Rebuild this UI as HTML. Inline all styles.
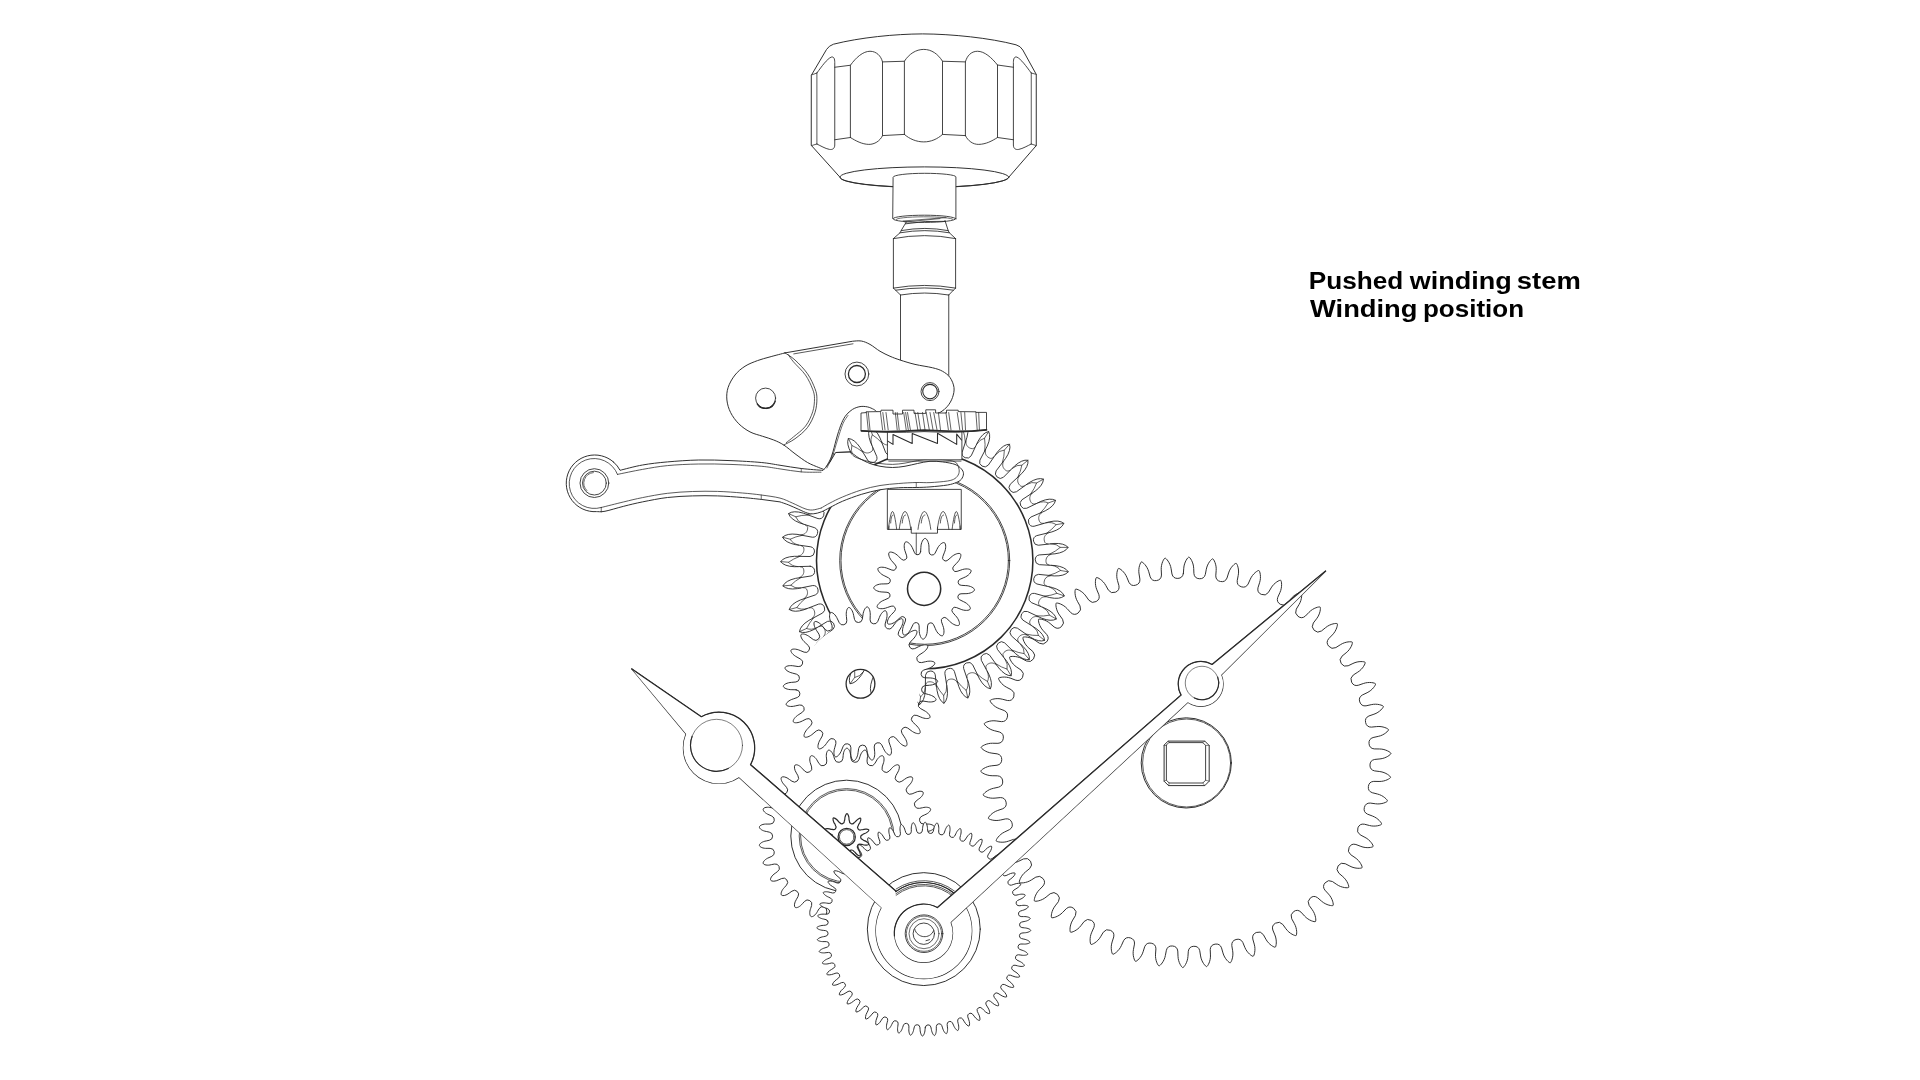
<!DOCTYPE html>
<html lang="en"><head><meta charset="utf-8"><title>Pushed winding stem - Winding position</title>
<style>
html,body{margin:0;padding:0;background:#fff;}
body{width:1920px;height:1080px;overflow:hidden;position:relative;}
svg{position:absolute;left:0;top:0;display:block;}
</style></head><body>
<svg width="1920" height="1080" viewBox="0 0 1920 1080" stroke-linejoin="round" stroke-linecap="round">
<defs><clipPath id="cwclip"><path clip-rule="evenodd" d="M0,0H1920V1080H0Z M860.5,683.8 m-60,0 a60,60 0 1,0 120,0 a60,60 0 1,0 -120,0Z M860.5,683.8 m-14.2,0 a14.2,14.2 0 1,0 28.4,0 a14.2,14.2 0 1,0 -28.4,0Z"/></clipPath></defs>
<path d="M1183.38,573.49L1183.76,568.21C1184.12,562.07 1187.95,557.06 1188.9,557.07C1189.84,557.09 1193.52,562.21 1193.7,568.36L1193.92,573.65A5.83,5.83 0 0 0 1205.32,574.48L1206.31,569.28C1207.38,563.23 1211.77,558.69 1212.71,558.81C1213.64,558.94 1216.71,564.46 1216.17,570.58L1215.78,575.86A5.83,5.83 0 0 0 1227,578.01L1228.59,572.96C1230.35,567.07 1235.24,563.08 1236.15,563.31C1237.07,563.54 1239.47,569.38 1238.22,575.4L1237.22,580.6A5.83,5.83 0 0 0 1248.12,584.04L1250.29,579.2C1252.72,573.56 1258.04,570.16 1258.92,570.49C1259.8,570.83 1261.51,576.91 1259.57,582.74L1257.98,587.79A5.83,5.83 0 0 0 1268.4,592.47L1271.11,587.92C1274.18,582.6 1279.86,579.84 1280.7,580.27C1281.54,580.71 1282.53,586.95 1279.93,592.52L1277.75,597.34A5.83,5.83 0 0 0 1287.56,603.2L1290.79,599C1294.46,594.07 1300.41,591.99 1301.2,592.52C1301.98,593.05 1302.24,599.36 1299.01,604.59L1296.29,609.13A5.83,5.83 0 0 0 1305.35,616.09L1309.04,612.29C1313.26,607.82 1319.42,606.44 1320.13,607.06C1320.85,607.68 1320.37,613.97 1316.56,618.79L1313.33,622.99A5.83,5.83 0 0 0 1321.52,630.95L1325.63,627.6C1330.34,623.65 1336.61,623 1337.25,623.7C1337.89,624.39 1336.69,630.59 1332.34,634.93L1328.65,638.73A5.83,5.83 0 0 0 1335.86,647.59L1340.33,644.74C1345.46,641.36 1351.77,641.44 1352.33,642.21C1352.88,642.98 1350.97,648.99 1346.14,652.8L1342.03,656.14A5.83,5.83 0 0 0 1348.17,665.78L1352.93,663.47C1358.43,660.71 1364.69,661.52 1365.15,662.35C1365.61,663.18 1363.01,668.93 1357.78,672.15L1353.31,674.99A5.83,5.83 0 0 0 1358.28,685.28L1363.28,683.54C1369.06,681.43 1375.18,682.97 1375.55,683.84C1375.91,684.72 1372.66,690.13 1367.08,692.72L1362.32,695.02A5.83,5.83 0 0 0 1366.06,705.82L1371.23,704.67C1377.21,703.25 1383.12,705.48 1383.38,706.39C1383.63,707.3 1379.78,712.3 1373.94,714.23L1368.94,715.96A5.83,5.83 0 0 0 1371.41,727.12L1376.68,726.58C1382.78,725.87 1388.39,728.77 1388.54,729.7C1388.69,730.64 1384.28,735.15 1378.26,736.39L1373.09,737.53A5.83,5.83 0 0 0 1374.24,748.9L1379.54,748.98C1385.69,748.98 1390.91,752.51 1390.96,753.45C1391,754.4 1386.09,758.37 1379.97,758.91L1374.7,759.44A5.83,5.83 0 0 0 1374.53,770.86L1379.78,771.55C1385.89,772.27 1390.67,776.38 1390.6,777.33C1390.53,778.27 1385.2,781.65 1379.06,781.46L1373.76,781.38A5.83,5.83 0 0 0 1372.27,792.71L1377.4,794C1383.38,795.42 1387.66,800.07 1387.48,801C1387.3,801.92 1381.61,804.66 1375.53,803.77L1370.28,803.07A5.83,5.83 0 0 0 1367.48,814.15L1372.43,816.03C1378.21,818.13 1381.91,823.24 1381.63,824.14C1381.34,825.04 1375.38,827.1 1369.44,825.51L1364.31,824.2A5.83,5.83 0 0 0 1360.24,834.88L1364.94,837.33C1370.43,840.08 1373.52,845.59 1373.13,846.45C1372.74,847.31 1366.58,848.67 1360.87,846.39L1355.92,844.5A5.83,5.83 0 0 0 1350.64,854.64L1355.02,857.61C1360.16,860.99 1362.59,866.81 1362.1,867.63C1361.62,868.44 1355.34,869.06 1349.93,866.14L1345.23,863.69A5.83,5.83 0 0 0 1338.81,873.14L1342.82,876.61C1347.53,880.56 1349.26,886.62 1348.69,887.38C1348.11,888.13 1341.8,888.02 1336.77,884.49L1332.39,881.51A5.83,5.83 0 0 0 1324.92,890.15L1328.5,894.06C1332.71,898.53 1333.73,904.76 1333.07,905.44C1332.41,906.11 1326.16,905.27 1321.57,901.18L1317.57,897.72A5.83,5.83 0 0 0 1309.14,905.43L1312.24,909.73C1315.91,914.66 1316.2,920.96 1315.47,921.56C1314.73,922.15 1308.62,920.59 1304.53,916L1300.96,912.09A5.83,5.83 0 0 0 1291.69,918.78L1294.28,923.4C1297.35,928.73 1296.9,935.02 1296.11,935.53C1295.31,936.04 1289.42,933.78 1285.89,928.74L1282.8,924.44A5.83,5.83 0 0 0 1272.82,930.01L1274.85,934.9C1277.28,940.54 1276.11,946.75 1275.26,947.16C1274.4,947.57 1268.81,944.64 1265.9,939.23L1263.32,934.6A5.83,5.83 0 0 0 1252.77,938.97L1254.21,944.07C1255.98,949.95 1254.09,955.98 1253.2,956.29C1252.3,956.6 1247.09,953.04 1244.82,947.33L1242.8,942.43A5.83,5.83 0 0 0 1231.81,945.55L1232.65,950.77C1233.72,956.83 1231.15,962.59 1230.23,962.8C1229.3,963 1224.54,958.86 1222.95,952.92L1221.51,947.83A5.83,5.83 0 0 0 1210.23,949.64L1210.46,954.93C1210.82,961.07 1207.6,966.49 1206.66,966.59C1205.71,966.69 1201.46,962.02 1200.58,955.94L1199.74,950.71A5.83,5.83 0 0 0 1188.32,951.21L1187.94,956.49C1187.58,962.63 1183.75,967.64 1182.8,967.63C1181.86,967.61 1178.18,962.49 1178,956.34L1177.78,951.05A5.83,5.83 0 0 0 1166.38,950.22L1165.39,955.42C1164.32,961.47 1159.93,966.01 1158.99,965.89C1158.06,965.76 1154.99,960.24 1155.53,954.12L1155.92,948.84A5.83,5.83 0 0 0 1144.7,946.69L1143.11,951.74C1141.35,957.63 1136.46,961.62 1135.55,961.39C1134.63,961.16 1132.23,955.32 1133.48,949.3L1134.48,944.1A5.83,5.83 0 0 0 1123.58,940.66L1121.41,945.5C1118.98,951.14 1113.66,954.54 1112.78,954.21C1111.9,953.87 1110.19,947.79 1112.13,941.96L1113.72,936.91A5.83,5.83 0 0 0 1103.3,932.23L1100.59,936.78C1097.52,942.1 1091.84,944.86 1091,944.43C1090.16,943.99 1089.17,937.75 1091.77,932.18L1093.95,927.36A5.83,5.83 0 0 0 1084.14,921.5L1080.91,925.7C1077.24,930.63 1071.29,932.71 1070.5,932.18C1069.72,931.65 1069.46,925.34 1072.69,920.11L1075.41,915.57A5.83,5.83 0 0 0 1066.35,908.61L1062.66,912.41C1058.44,916.88 1052.28,918.26 1051.57,917.64C1050.85,917.02 1051.33,910.73 1055.14,905.91L1058.37,901.71A5.83,5.83 0 0 0 1050.18,893.75L1046.07,897.1C1041.36,901.05 1035.09,901.7 1034.45,901C1033.81,900.31 1035.01,894.11 1039.36,889.77L1043.05,885.97A5.83,5.83 0 0 0 1035.84,877.11L1031.37,879.96C1026.24,883.34 1019.93,883.26 1019.37,882.49C1018.82,881.72 1020.73,875.71 1025.56,871.9L1029.67,868.56A5.83,5.83 0 0 0 1023.53,858.92L1018.77,861.23C1013.27,863.99 1007.01,863.18 1006.55,862.35C1006.09,861.52 1008.69,855.77 1013.92,852.55L1018.39,849.71A5.83,5.83 0 0 0 1013.42,839.42L1008.42,841.16C1002.64,843.27 996.52,841.73 996.15,840.86C995.79,839.98 999.04,834.57 1004.62,831.98L1009.38,829.68A5.83,5.83 0 0 0 1005.64,818.88L1000.47,820.03C994.49,821.45 988.58,819.22 988.32,818.31C988.07,817.4 991.92,812.4 997.76,810.47L1002.76,808.74A5.83,5.83 0 0 0 1000.29,797.58L995.02,798.12C988.92,798.83 983.31,795.93 983.16,795C983.01,794.06 987.42,789.55 993.44,788.31L998.61,787.17A5.83,5.83 0 0 0 997.46,775.8L992.16,775.72C986.01,775.72 980.79,772.19 980.74,771.25C980.7,770.3 985.61,766.33 991.73,765.79L997,765.26A5.83,5.83 0 0 0 997.17,753.84L991.92,753.15C985.81,752.43 981.03,748.32 981.1,747.37C981.17,746.43 986.5,743.05 992.64,743.24L997.94,743.32A5.83,5.83 0 0 0 999.43,731.99L994.3,730.7C988.32,729.28 984.04,724.63 984.22,723.7C984.4,722.78 990.09,720.04 996.17,720.93L1001.42,721.63A5.83,5.83 0 0 0 1004.22,710.55L999.27,708.67C993.49,706.57 989.79,701.46 990.07,700.56C990.36,699.66 996.32,697.6 1002.26,699.19L1007.39,700.5A5.83,5.83 0 0 0 1011.46,689.82L1006.76,687.37C1001.27,684.62 998.18,679.11 998.57,678.25C998.96,677.39 1005.12,676.03 1010.83,678.31L1015.78,680.2A5.83,5.83 0 0 0 1021.06,670.06L1016.68,667.09C1011.54,663.71 1009.11,657.89 1009.6,657.07C1010.08,656.26 1016.36,655.64 1021.77,658.56L1026.47,661.01A5.83,5.83 0 0 0 1032.89,651.56L1028.88,648.09C1024.17,644.14 1022.44,638.08 1023.01,637.32C1023.59,636.57 1029.9,636.68 1034.93,640.21L1039.31,643.19A5.83,5.83 0 0 0 1046.78,634.55L1043.2,630.64C1038.99,626.17 1037.97,619.94 1038.63,619.26C1039.29,618.59 1045.54,619.43 1050.13,623.52L1054.13,626.98A5.83,5.83 0 0 0 1062.56,619.27L1059.46,614.97C1055.79,610.04 1055.5,603.74 1056.23,603.14C1056.97,602.55 1063.08,604.11 1067.17,608.7L1070.74,612.61A5.83,5.83 0 0 0 1080.01,605.92L1077.42,601.3C1074.35,595.97 1074.8,589.68 1075.59,589.17C1076.39,588.66 1082.28,590.92 1085.81,595.96L1088.9,600.26A5.83,5.83 0 0 0 1098.88,594.69L1096.85,589.8C1094.42,584.16 1095.59,577.95 1096.44,577.54C1097.3,577.13 1102.89,580.06 1105.8,585.47L1108.38,590.1A5.83,5.83 0 0 0 1118.93,585.73L1117.49,580.63C1115.72,574.75 1117.61,568.72 1118.5,568.41C1119.4,568.1 1124.61,571.66 1126.88,577.37L1128.9,582.27A5.83,5.83 0 0 0 1139.89,579.15L1139.05,573.93C1137.98,567.87 1140.55,562.11 1141.47,561.9C1142.4,561.7 1147.16,565.84 1148.75,571.78L1150.19,576.87A5.83,5.83 0 0 0 1161.47,575.06L1161.24,569.77C1160.88,563.63 1164.1,558.21 1165.04,558.11C1165.99,558.01 1170.24,562.68 1171.12,568.76L1171.96,573.99A5.83,5.83 0 0 0 1183.38,573.49Z" fill="#fff" stroke="#2a2a2a" stroke-width="0.97" />
<circle cx="1186.3" cy="762.9" r="45.1" fill="none" stroke="#2a2a2a" stroke-width="0.97" />
<circle cx="1186.6" cy="763" r="44" fill="none" stroke="#2a2a2a" stroke-width="0.78" />
<path d="M1168.5,741.1 L1204.8,741.1 L1209.2,745.5 L1209.2,781.2 L1204.8,785.6 L1168.5,785.6 L1164.1,781.2 L1164.1,745.5Z" fill="none" stroke="#2a2a2a" stroke-width="0.97" />
<path d="M1169.2,742.6 L1202.8,742.6 L1205.6,745.4 L1205.6,780.2 L1202.8,783 L1169.2,783 L1166.4,780.2 L1166.4,745.4Z" fill="none" stroke="#2a2a2a" stroke-width="0.87" />
<path d="M1168.5,741.1 L1169.2,742.6M1204.8,741.1 L1202.8,742.6M1209.2,745.5 L1205.6,745.4M1209.2,781.2 L1205.6,780.2M1204.8,785.6 L1202.8,783M1168.5,785.6 L1169.2,783M1164.1,781.2 L1166.4,780.2M1164.1,745.5 L1166.4,745.4" fill="none" stroke="#2a2a2a" stroke-width="0.58" />
<circle cx="924.7" cy="560.6" r="108.2" fill="none" stroke="#2a2a2a" stroke-width="1.55" />
<circle cx="924.7" cy="560.6" r="85" fill="none" stroke="#2a2a2a" stroke-width="0.87" />
<circle cx="924.7" cy="560.6" r="83.7" fill="none" stroke="#2a2a2a" stroke-width="0.87" />
<path d="M796.12,689.79L791.9,689.68C787.3,689.75 783.41,687.93 783.34,686.29C783.3,684.65 787.07,682.59 791.67,682.36L795.87,681.98A3.98,3.98 0 0 0 796.56,674.2L792.49,673.09C788,672.06 784.66,669.36 784.99,667.75C785.34,666.15 789.49,665.05 794.01,665.93L798.18,666.57A3.98,3.98 0 0 0 800.71,659.18L797.03,657.12C792.92,655.05 790.32,651.63 791.02,650.15C791.75,648.68 796.04,648.6 800.22,650.54L804.11,652.15A3.98,3.98 0 0 0 808.34,645.59L805.26,642.71C801.76,639.71 800.06,635.77 801.09,634.5C802.15,633.25 806.34,634.2 809.93,637.08L813.33,639.58A3.98,3.98 0 0 0 819,634.21L816.7,630.68C814.02,626.93 813.31,622.7 814.62,621.71C815.95,620.75 819.78,622.68 822.58,626.33L825.28,629.57A3.98,3.98 0 0 0 832.07,625.72L830.68,621.74C828.98,617.46 829.3,613.19 830.81,612.54C832.33,611.92 835.59,614.71 837.43,618.93L839.28,622.72A3.98,3.98 0 0 0 846.8,620.61L846.4,616.41C845.77,611.85 847.11,607.77 848.73,607.5C850.35,607.27 852.85,610.76 853.63,615.29L854.51,619.42A3.98,3.98 0 0 0 862.32,619.17L862.94,614.99C863.42,610.42 865.69,606.77 867.33,606.9C868.96,607.06 870.55,611.05 870.22,615.64L870.1,619.86A3.98,3.98 0 0 0 877.73,621.48L879.33,617.58C880.9,613.25 883.97,610.25 885.53,610.77C887.08,611.32 887.67,615.57 886.25,619.95L885.12,624.01A3.98,3.98 0 0 0 892.15,627.41L894.63,624.01C897.19,620.18 900.89,618.01 902.28,618.88C903.65,619.79 903.21,624.05 900.79,627.97L898.71,631.64A3.98,3.98 0 0 0 904.72,636.63L907.95,633.91C911.35,630.81 915.46,629.59 916.6,630.77C917.72,631.97 916.27,636.01 912.98,639.23L910.09,642.3A3.98,3.98 0 0 0 914.73,648.58L918.51,646.72C922.55,644.52 926.84,644.32 927.66,645.74C928.46,647.17 926.08,650.75 922.12,653.08L918.58,655.37A3.98,3.98 0 0 0 921.58,662.58L925.7,661.68C930.15,660.51 934.36,661.34 934.82,662.91C935.25,664.5 932.09,667.4 927.68,668.72L923.69,670.1A3.98,3.98 0 0 0 924.88,677.81L929.1,677.92C933.7,677.85 937.59,679.67 937.66,681.31C937.7,682.95 933.93,685.01 929.33,685.24L925.13,685.62A3.98,3.98 0 0 0 924.44,693.4L928.51,694.51C933,695.54 936.34,698.24 936.01,699.85C935.66,701.45 931.51,702.55 926.99,701.67L922.82,701.03A3.98,3.98 0 0 0 920.29,708.42L923.97,710.48C928.08,712.55 930.68,715.97 929.98,717.45C929.25,718.92 924.96,719 920.78,717.06L916.89,715.45A3.98,3.98 0 0 0 912.66,722.01L915.74,724.89C919.24,727.89 920.94,731.83 919.91,733.1C918.85,734.35 914.66,733.4 911.07,730.52L907.67,728.02A3.98,3.98 0 0 0 902,733.39L904.3,736.92C906.98,740.67 907.69,744.9 906.38,745.89C905.05,746.85 901.22,744.92 898.42,741.27L895.72,738.03A3.98,3.98 0 0 0 888.93,741.88L890.32,745.86C892.02,750.14 891.7,754.41 890.19,755.06C888.67,755.68 885.41,752.89 883.57,748.67L881.72,744.88A3.98,3.98 0 0 0 874.2,746.99L874.6,751.19C875.23,755.75 873.89,759.83 872.27,760.1C870.65,760.33 868.15,756.84 867.37,752.31L866.49,748.18A3.98,3.98 0 0 0 858.68,748.43L858.06,752.61C857.58,757.18 855.31,760.83 853.67,760.7C852.04,760.54 850.45,756.55 850.78,751.96L850.9,747.74A3.98,3.98 0 0 0 843.27,746.12L841.67,750.02C840.1,754.35 837.03,757.35 835.47,756.83C833.92,756.28 833.33,752.03 834.75,747.65L835.88,743.59A3.98,3.98 0 0 0 828.85,740.19L826.37,743.59C823.81,747.42 820.11,749.59 818.72,748.72C817.35,747.81 817.79,743.55 820.21,739.63L822.29,735.96A3.98,3.98 0 0 0 816.28,730.97L813.05,733.69C809.65,736.79 805.54,738.01 804.4,736.83C803.28,735.63 804.73,731.59 808.02,728.37L810.91,725.3A3.98,3.98 0 0 0 806.27,719.02L802.49,720.88C798.45,723.08 794.16,723.28 793.34,721.86C792.54,720.43 794.92,716.85 798.88,714.52L802.42,712.23A3.98,3.98 0 0 0 799.42,705.02L795.3,705.92C790.85,707.09 786.64,706.26 786.18,704.69C785.75,703.1 788.91,700.2 793.32,698.88L797.31,697.5A3.98,3.98 0 0 0 796.12,689.79Z" fill="#fff" stroke="#2a2a2a" stroke-width="0.97" />
<g clip-path="url(#cwclip)">
<path d="M810.17,566.27L794.44,566.71Q784.22,566.36 780.7,561.61Q784.15,556.81 794.37,556.31L810.1,556.53A4.96,4.96 0 0 0 810.86,546.83L810.86,546.83L795.28,544.61Q785.27,542.53 782.6,537.26Q786.81,533.11 796.97,534.34L812.44,537.22A4.96,4.96 0 0 0 814.82,527.79L814.82,527.79L799.85,522.97Q790.33,519.23 788.59,513.58Q793.44,510.2 803.25,513.13L818,518.59A4.96,4.96 0 0 0 821.95,509.69L821.95,509.69L808,502.41Q799.25,497.11 798.5,491.25Q803.85,488.74 813.01,493.29L826.64,501.16A4.96,4.96 0 0 0 832.03,493.06L832.03,493.06L819.52,483.53Q811.78,476.82 812.03,470.92Q817.73,469.35 826,475.38L838.09,485.44A4.96,4.96 0 0 0 844.78,478.37L844.78,478.37L834.05,466.86Q827.57,458.95 828.81,453.17Q834.69,452.59 841.82,459.93L852.04,471.89A4.96,4.96 0 0 0 859.83,466.05L859.83,466.05L851.2,452.89Q846.14,443.99 848.35,438.51Q854.24,438.93 860.02,447.37L868.08,460.88A4.96,4.96 0 0 0 876.74,456.44L876.74,456.44L870.46,442.02Q866.98,432.39 870.08,427.36Q875.82,428.77 880.09,438.07L885.75,452.75A4.96,4.96 0 0 0 895.03,449.83L895.03,449.83L891.28,434.55Q889.48,424.48 893.38,420.05Q898.8,422.41 901.44,432.29L904.53,447.72A4.96,4.96 0 0 0 914.18,446.41L914.18,446.41L913.07,430.72Q912.99,420.49 917.58,416.78Q922.52,420.02 923.46,430.21L923.9,445.93A4.96,4.96 0 0 0 933.63,446.28L933.63,446.28L935.18,430.62Q936.84,420.52 941.99,417.64Q946.31,421.67 945.51,431.87L943.29,447.45A4.96,4.96 0 0 0 952.82,449.43L952.82,449.43L957,434.26Q960.33,424.59 965.9,422.62Q969.48,427.32 966.97,437.24L962.15,452.22A4.96,4.96 0 0 0 971.2,455.78L971.2,455.78L977.88,441.54Q982.81,432.57 988.63,431.57Q991.36,436.81 987.21,446.16L979.92,460.1A4.96,4.96 0 0 0 988.25,465.15L988.25,465.15L997.24,452.24Q1003.61,444.23 1009.52,444.23Q1011.32,449.85 1005.65,458.37L996.11,470.88A4.96,4.96 0 0 0 1003.46,477.26L1003.46,477.26L1014.51,466.06Q1022.14,459.24 1027.96,460.24Q1028.79,466.09 1021.76,473.52L1010.25,484.24A4.96,4.96 0 0 0 1016.42,491.77L1016.42,491.77L1029.2,482.6Q1037.87,477.17 1043.44,479.13Q1043.27,485.04 1035.08,491.18L1021.92,499.8A4.96,4.96 0 0 0 1026.73,508.26L1026.73,508.26L1040.88,501.38Q1050.34,497.49 1055.5,500.37Q1054.33,506.16 1045.23,510.83L1030.8,517.1A4.96,4.96 0 0 0 1034.11,526.26L1034.11,526.26L1049.21,521.86Q1059.2,519.63 1063.8,523.34Q1061.67,528.86 1051.91,531.91L1036.62,535.66A4.96,4.96 0 0 0 1038.34,545.24L1038.34,545.24L1053.97,543.46Q1064.19,542.95 1068.09,547.39Q1065.06,552.46 1054.92,553.82L1039.23,554.93A4.96,4.96 0 0 0 1039.3,564.67L1039.3,564.67L1055.01,565.56Q1065.16,566.78 1068.26,571.81Q1064.42,576.3 1054.2,575.93L1038.54,574.37A4.96,4.96 0 0 0 1036.96,583.98L1036.96,583.98L1052.29,587.51Q1062.1,590.43 1064.3,595.91Q1059.76,599.69 1049.74,597.59L1034.58,593.41A4.96,4.96 0 0 0 1031.4,602.61L1031.4,602.61L1045.91,608.68Q1055.08,613.22 1056.33,619Q1051.21,621.95 1041.69,618.19L1027.45,611.51A4.96,4.96 0 0 0 1022.76,620.04L1022.76,620.04L1036.04,628.48Q1044.31,634.5 1044.57,640.4Q1039.02,642.45 1030.28,637.14L1017.37,628.14A4.96,4.96 0 0 0 1011.31,635.76L1011.31,635.76L1022.97,646.32Q1030.1,653.65 1029.35,659.51Q1023.55,660.59 1015.82,653.88L1004.62,642.83A4.96,4.96 0 0 0 997.36,649.31L997.36,649.31L1007.07,661.69Q1012.86,670.13 1011.13,675.77Q1005.23,675.86 998.75,667.94L989.57,655.15A4.96,4.96 0 0 0 981.32,660.32L981.32,660.32L988.8,674.16Q993.08,683.45 990.43,688.73Q984.59,687.81 979.54,678.91L972.66,664.76A4.96,4.96 0 0 0 963.65,668.45L963.65,668.45L968.69,683.36Q971.34,693.24 967.83,697.99Q962.23,696.1 958.76,686.47L954.37,671.37A4.96,4.96 0 0 0 944.87,673.48L944.87,673.48L947.31,689.03Q948.25,699.21 943.99,703.3Q938.79,700.49 937,690.42L935.22,674.79A4.96,4.96 0 0 0 925.5,675.27L925.5,675.27L925.28,691Q924.49,701.2 919.59,704.51Q914.95,700.86 914.88,690.63L915.77,674.92A4.96,4.96 0 0 0 906.11,673.75L906.11,673.75L903.23,689.22Q900.73,699.14 895.35,701.58Q891.38,697.2 893.05,687.1L896.58,671.77A4.96,4.96 0 0 0 887.25,668.98L887.25,668.98L881.8,683.74Q877.66,693.1 871.94,694.59Q868.78,689.6 872.12,679.93L878.2,665.42A4.96,4.96 0 0 0 869.48,661.1L869.48,661.1L861.61,674.72Q855.94,683.24 850.06,683.74Q847.78,678.29 852.71,669.33L861.15,656.05A4.96,4.96 0 0 0 853.29,650.32L853.29,650.32L843.23,662.42Q836.21,669.86 830.32,669.36Q829,663.6 835.37,655.6L845.94,643.94A4.96,4.96 0 0 0 839.15,636.96L839.15,636.96L827.2,647.19Q819.02,653.33 813.3,651.84Q812.97,645.94 820.6,639.14L832.98,629.43A4.96,4.96 0 0 0 827.48,621.4L827.48,621.4L813.96,629.46Q804.86,634.14 799.48,631.7Q800.15,625.83 808.83,620.41L822.67,612.94A4.96,4.96 0 0 0 818.6,604.1L818.6,604.1L803.92,609.76Q794.16,612.83 789.26,609.52Q790.92,603.85 800.39,599.97L815.29,594.94A4.96,4.96 0 0 0 812.78,585.54L812.78,585.54L797.35,588.64Q787.21,590.01 782.94,585.93Q785.53,580.61 795.52,578.39L811.06,575.96A4.96,4.96 0 0 0 810.17,566.27Z" fill="none" stroke="#2a2a2a" stroke-width="0.92" />
<path d="M799.34,577.54 C802.72,576.44 804.38,573.38 803.75,569.83C803.51,567.73 802.27,567.09 800.35,566.75M797.84,566.65 Q791.31,566.03 788.51,562.26 Q793.21,558.76 799.77,556.38M788.51,562.26 L780.7,561.61M798.28,556.11 C801.8,555.59 803.95,552.87 803.93,549.26C804.05,547.14 802.94,546.3 801.1,545.65M798.65,545.13 Q792.31,543.41 790.19,539.22 Q795.41,536.57 802.28,535.33M790.19,539.22 L782.6,537.26M800.86,534.81 C804.42,534.9 806.99,532.57 807.59,529.01C808.06,526.95 807.1,525.93 805.41,524.98M803.07,524.05 Q797.12,521.29 795.74,516.8 Q801.34,515.07 808.31,515.01M795.74,516.8 L788.59,513.58M807,514.25 C810.49,514.94 813.42,513.08 814.61,509.67C815.42,507.72 814.66,506.55 813.14,505.33M811,504.02 Q805.6,500.29 804.99,495.63 Q810.81,494.87 817.69,495.99M804.99,495.63 L798.5,491.25M816.52,495.03 C819.85,496.29 823.05,494.96 824.8,491.8C825.93,490.01 825.37,488.73 824.09,487.27M822.2,485.62 Q817.51,481.03 817.69,476.34 Q823.55,476.57 830.15,478.84M817.69,476.34 L812.03,470.92M829.16,477.69 C832.23,479.5 835.61,478.72 837.86,475.91C839.28,474.33 838.95,472.98 837.93,471.32M836.34,469.37 Q832.49,464.06 833.47,459.47 Q839.21,460.68 845.33,464.03M833.47,459.47 L828.81,453.17M844.55,462.74 C847.26,465.04 850.73,464.84 853.42,462.45C855.09,461.14 854.99,459.75 854.26,457.94M853.03,455.75 Q850.14,449.86 851.88,445.5 Q857.32,447.67 862.79,452.01M851.88,445.5 L848.35,438.51M862.24,450.6 C864.53,453.32 867.97,453.72 871.04,451.82C872.9,450.81 873.03,449.42 872.63,447.51M871.78,445.15 Q869.92,438.86 872.38,434.85 Q877.38,437.91 882.03,443.11M872.38,434.85 L870.08,427.36M881.73,441.62 C883.52,444.7 886.85,445.67 890.19,444.31C892.2,443.63 892.57,442.29 892.49,440.34M892.06,437.87 Q891.29,431.35 894.38,427.82 Q898.79,431.68 902.5,437.59M894.38,427.82 L893.38,420.05M902.45,436.07 C903.7,439.41 906.82,440.93 910.34,440.15C912.44,439.82 913.02,438.56 913.28,436.63M913.27,434.12 Q913.61,427.56 917.26,424.6 Q920.95,429.15 923.61,435.6M917.26,424.6 L917.58,416.78M923.82,434.1 C924.49,437.6 927.3,439.63 930.91,439.46C933.03,439.49 933.82,438.34 934.39,436.48M934.81,434 Q936.25,427.6 940.35,425.3 Q943.22,430.41 944.75,437.22M940.35,425.3 L941.99,417.64M945.21,435.77 C945.28,439.33 947.71,441.81 951.29,442.25C953.37,442.63 954.35,441.64 955.23,439.9M956.06,437.53 Q958.56,431.47 962.99,429.89 Q964.96,435.41 965.31,442.38M962.99,429.89 L965.9,422.62M966.01,441.03 C965.47,444.55 967.45,447.41 970.91,448.45C972.9,449.18 974.03,448.36 975.19,446.8M976.4,444.6 Q979.9,439.05 984.53,438.24 Q985.54,444.02 984.71,450.95M984.53,438.24 L988.63,431.57M985.62,449.74 C984.5,453.11 985.97,456.26 989.2,457.87C991.04,458.93 992.29,458.31 993.7,456.97M995.26,455.01 Q999.65,450.12 1004.35,450.11 Q1004.36,455.98 1002.38,462.66M1004.35,450.11 L1009.52,444.23M1003.48,461.63 C1001.8,464.77 1002.72,468.11 1005.63,470.25C1007.26,471.6 1008.6,471.2 1010.22,470.12M1012.09,468.45 Q1017.24,464.38 1021.87,465.16 Q1020.9,470.94 1017.81,477.2M1021.87,465.16 L1027.96,460.24M1019.07,476.36 C1016.89,479.18 1017.23,482.63 1019.74,485.22C1021.12,486.83 1022.5,486.67 1024.28,485.87M1026.41,484.55 Q1032.17,481.4 1036.6,482.96 Q1034.67,488.49 1030.57,494.14M1036.6,482.96 L1043.44,479.13M1031.95,493.52 C1029.33,495.93 1029.08,499.39 1031.11,502.37C1032.2,504.19 1033.59,504.26 1035.48,503.77M1037.8,502.83 Q1044.01,500.71 1048.11,502.99 Q1045.27,508.11 1040.27,512.98M1048.11,502.99 L1055.5,500.37M1041.75,512.62 C1038.75,514.54 1037.92,517.91 1039.42,521.19C1040.18,523.17 1041.54,523.47 1043.49,523.31M1045.94,522.78 Q1052.42,521.73 1056.08,524.67 Q1052.41,529.24 1046.66,533.2M1056.08,524.67 L1063.8,523.34M1048.17,533.09 C1044.89,534.48 1043.51,537.66 1044.43,541.14C1044.85,543.22 1046.14,543.76 1048.08,543.92M1050.59,543.81 Q1057.15,543.87 1060.26,547.39 Q1055.87,551.28 1049.54,554.21M1060.26,547.39 L1068.09,547.39M1051.05,554.35 C1047.58,555.17 1045.67,558.07 1046,561.66C1046.06,563.78 1047.24,564.52 1049.12,565.02M1051.61,565.33 Q1058.07,566.5 1060.54,570.49 Q1055.56,573.58 1048.82,575.39M1060.54,570.49 L1068.26,571.81M1050.28,575.79 C1046.73,576.01 1044.36,578.55 1044.07,582.14C1043.78,584.24 1044.81,585.17 1046.59,585.98M1048.99,586.71 Q1055.15,588.95 1056.91,593.31 Q1051.48,595.51 1044.54,596.16M1056.91,593.31 L1064.3,595.91M1045.91,596.8 C1042.37,596.41 1039.61,598.51 1038.71,602.01C1038.07,604.03 1038.93,605.12 1040.54,606.21M1042.79,607.34 Q1048.49,610.59 1049.49,615.18 Q1043.76,616.43 1036.8,615.9M1049.49,615.18 L1056.33,619M1038.05,616.76 C1034.63,615.78 1031.55,617.39 1030.08,620.68C1029.1,622.56 1029.76,623.78 1031.17,625.13M1033.19,626.62 Q1038.26,630.79 1038.47,635.48 Q1032.61,635.75 1025.84,634.05M1038.47,635.48 L1044.57,640.4M1026.93,635.11 C1023.72,633.57 1020.41,634.63 1018.41,637.62C1017.12,639.31 1017.58,640.63 1018.73,642.2M1020.47,644.01 Q1024.76,648.97 1024.17,653.63 Q1018.36,652.91 1011.98,650.09M1024.17,653.63 L1029.35,659.51M1012.87,651.31 C1009.96,649.25 1006.53,649.74 1004.04,652.35C1002.49,653.8 1002.71,655.18 1003.59,656.92M1005,658.99 Q1008.39,664.61 1007.02,669.11 Q1001.41,667.41 995.6,663.55M1007.02,669.11 L1011.13,675.77M996.27,664.91 C993.75,662.39 990.29,662.28 987.39,664.44C985.62,665.61 985.61,667 986.18,668.86M987.22,671.15 Q989.6,677.26 987.5,681.46 Q982.26,678.83 977.18,674.05M987.5,681.46 L990.43,688.73M977.61,675.5 C975.56,672.59 972.16,671.91 968.94,673.54C967,674.39 966.75,675.76 966.99,677.7M967.64,680.12 Q968.95,686.55 966.17,690.33 Q961.45,686.86 957.25,681.29M966.17,690.33 L967.83,697.99M957.43,682.79 C955.9,679.58 952.66,678.32 949.22,679.4C947.16,679.9 946.68,681.21 946.6,683.16M946.82,685.66 Q947.03,692.22 943.65,695.48 Q939.58,691.26 936.39,685.05M943.65,695.48 L943.99,703.3M936.31,686.57 C935.35,683.14 932.37,681.36 928.79,681.83C926.68,681.98 925.98,683.19 925.57,685.1M925.36,687.6 Q924.47,694.1 920.58,696.74 Q917.29,691.89 915.19,685.24M920.58,696.74 L919.59,704.51M914.85,686.72 C914.48,683.17 911.85,680.92 908.24,680.78C906.13,680.57 905.25,681.65 904.52,683.45M903.89,685.88 Q901.91,692.14 897.63,694.08 Q895.2,688.75 894.26,681.84M897.63,694.08 L895.35,701.58M893.68,683.24 C893.91,679.69 891.7,677.01 888.17,676.27C886.12,675.71 885.07,676.62 884.04,678.27M883.02,680.57 Q880.01,686.4 875.46,687.59 Q873.97,681.92 874.21,674.95M875.46,687.59 L871.94,694.59M873.4,676.23 C874.23,672.77 872.5,669.76 869.15,668.43C867.23,667.53 866.03,668.25 864.74,669.71M863.34,671.8 Q859.39,677.03 854.71,677.44 Q854.2,671.6 855.61,664.77M854.71,677.44 L850.06,683.74M854.6,665.9 C856,662.63 854.8,659.37 851.72,657.49C849.98,656.28 848.68,656.79 847.16,658.01M845.43,659.83 Q840.65,664.32 835.97,663.93 Q836.45,658.09 839,651.6M835.97,663.93 L830.32,669.36M837.81,652.54 C839.75,649.55 839.12,646.14 836.4,643.76C834.89,642.28 833.52,642.56 831.82,643.5M829.81,645 Q824.33,648.63 819.78,647.45 Q821.24,641.77 824.85,635.8M819.78,647.45 L813.3,651.84M823.52,636.53 C825.94,633.91 825.89,630.44 823.61,627.65C822.37,625.92 820.98,625.97 819.14,626.61M816.91,627.75 Q810.9,630.4 806.62,628.47 Q809.01,623.12 813.58,617.85M806.62,628.47 L799.48,631.7M812.15,618.34 C814.97,616.17 815.51,612.74 813.74,609.6C812.81,607.69 811.43,607.5 809.5,607.83M807.11,608.57 Q800.74,610.16 796.84,607.54 Q800.11,602.67 805.5,598.24M796.84,607.54 L789.26,609.52M804.01,598.49 C807.15,596.82 808.27,593.53 807.05,590.14C806.46,588.1 805.13,587.68 803.18,587.68M800.69,588.01 Q794.15,588.5 790.75,585.26 Q794.79,581.01 800.86,577.56M790.75,585.26 L782.94,585.93" fill="none" stroke="#2a2a2a" stroke-width="0.73" />
</g>
<circle cx="860.5" cy="683.8" r="14.4" fill="none" stroke="#2a2a2a" stroke-width="1.26" />
<path d="M920.61,551.69L920.88,547.66C920.86,542.62 923.38,538.41 925.11,538.41C926.84,538.47 929.19,542.79 928.97,547.82L929.08,551.86A3.13,3.13 0 0 0 935.07,553.18L936.87,549.56C938.78,544.9 942.72,541.97 944.32,542.63C945.89,543.35 946.41,548.24 944.28,552.8L942.83,556.58A3.13,3.13 0 0 0 947.87,560.09L950.92,557.43C954.46,553.86 959.23,552.66 960.45,553.88C961.62,555.15 960.23,559.86 956.52,563.26L953.74,566.2A3.13,3.13 0 0 0 957.05,571.37L960.88,570.08C965.52,568.14 970.38,568.85 971.04,570.45C971.64,572.07 968.56,575.89 963.83,577.61L960.13,579.26A3.13,3.13 0 0 0 961.21,585.31L965.24,585.58C970.28,585.56 974.49,588.08 974.49,589.81C974.43,591.54 970.11,593.89 965.08,593.67L961.04,593.78A3.13,3.13 0 0 0 959.72,599.77L963.34,601.57C968,603.48 970.93,607.42 970.27,609.02C969.55,610.59 964.66,611.11 960.1,608.98L956.32,607.53A3.13,3.13 0 0 0 952.81,612.57L955.47,615.62C959.04,619.16 960.24,623.93 959.02,625.15C957.75,626.32 953.04,624.93 949.64,621.22L946.7,618.44A3.13,3.13 0 0 0 941.53,621.75L942.82,625.58C944.76,630.22 944.05,635.08 942.45,635.74C940.83,636.34 937.01,633.26 935.29,628.53L933.64,624.83A3.13,3.13 0 0 0 927.59,625.91L927.32,629.94C927.34,634.98 924.82,639.19 923.09,639.19C921.36,639.13 919.01,634.81 919.23,629.78L919.12,625.74A3.13,3.13 0 0 0 913.13,624.42L911.33,628.04C909.42,632.7 905.48,635.63 903.88,634.97C902.31,634.25 901.79,629.36 903.92,624.8L905.37,621.02A3.13,3.13 0 0 0 900.33,617.51L897.28,620.17C893.74,623.74 888.97,624.94 887.75,623.72C886.58,622.45 887.97,617.74 891.68,614.34L894.46,611.4A3.13,3.13 0 0 0 891.15,606.23L887.32,607.52C882.68,609.46 877.82,608.75 877.16,607.15C876.56,605.53 879.64,601.71 884.37,599.99L888.07,598.34A3.13,3.13 0 0 0 886.99,592.29L882.96,592.02C877.92,592.04 873.71,589.52 873.71,587.79C873.77,586.06 878.09,583.71 883.12,583.93L887.16,583.82A3.13,3.13 0 0 0 888.48,577.83L884.86,576.03C880.2,574.12 877.27,570.18 877.93,568.58C878.65,567.01 883.54,566.49 888.1,568.62L891.88,570.07A3.13,3.13 0 0 0 895.39,565.03L892.73,561.98C889.16,558.44 887.96,553.67 889.18,552.45C890.45,551.28 895.16,552.67 898.56,556.38L901.5,559.16A3.13,3.13 0 0 0 906.67,555.85L905.38,552.02C903.44,547.38 904.15,542.52 905.75,541.86C907.37,541.26 911.19,544.34 912.91,549.07L914.56,552.77A3.13,3.13 0 0 0 920.61,551.69Z" fill="none" stroke="#2a2a2a" stroke-width="0.97" />
<circle cx="924.1" cy="588.8" r="16.6" fill="#fff" stroke="#2a2a2a" stroke-width="1.55" />
<path d="M924.52,840.27L927.51,840.93C931.47,841.49 934.57,843.78 934.42,845.4C934.23,847.01 930.72,848.61 926.73,848.33L923.67,848.36A4.15,4.15 0 0 0 921.98,856.32L924.77,857.59C928.52,858.96 931.08,861.85 930.59,863.39C930.08,864.93 926.31,865.77 922.47,864.66L919.47,864.06A4.15,4.15 0 0 0 916.16,871.49L918.62,873.31C922.01,875.43 923.91,878.79 923.11,880.2C922.29,881.6 918.43,881.63 914.9,879.75L912.09,878.53A4.15,4.15 0 0 0 907.31,885.12L909.33,887.41C912.21,890.19 913.37,893.87 912.3,895.08C911.2,896.28 907.42,895.51 904.36,892.94L901.86,891.16A4.15,4.15 0 0 0 895.82,896.61L897.32,899.27C899.56,902.59 899.93,906.43 898.63,907.39C897.3,908.33 893.77,906.8 891.3,903.64L889.23,901.39A4.15,4.15 0 0 0 882.19,905.46L883.11,908.38C884.61,912.09 884.17,915.92 882.69,916.59C881.21,917.24 878.06,915 876.31,911.4L874.76,908.77A4.15,4.15 0 0 0 867.02,911.28L867.31,914.33C868.01,918.27 866.78,921.93 865.2,922.28C863.61,922.6 861,919.76 860.03,915.87L859.06,912.97A4.15,4.15 0 0 0 850.97,913.82L850.62,916.86C850.48,920.86 848.52,924.19 846.9,924.2C845.28,924.19 843.32,920.86 843.18,916.86L842.83,913.82A4.15,4.15 0 0 0 834.74,912.97L833.77,915.87C832.8,919.76 830.19,922.6 828.6,922.28C827.02,921.93 825.79,918.27 826.49,914.33L826.78,911.28A4.15,4.15 0 0 0 819.04,908.77L817.49,911.4C815.74,915 812.59,917.24 811.11,916.59C809.63,915.92 809.19,912.09 810.69,908.38L811.61,905.46A4.15,4.15 0 0 0 804.57,901.39L802.5,903.64C800.03,906.8 796.5,908.33 795.17,907.39C793.87,906.43 794.24,902.59 796.48,899.27L797.98,896.61A4.15,4.15 0 0 0 791.94,891.16L789.44,892.94C786.38,895.51 782.6,896.28 781.5,895.08C780.43,893.87 781.59,890.19 784.47,887.41L786.49,885.12A4.15,4.15 0 0 0 781.71,878.53L778.9,879.75C775.37,881.63 771.51,881.6 770.69,880.2C769.89,878.79 771.79,875.43 775.18,873.31L777.64,871.49A4.15,4.15 0 0 0 774.33,864.06L771.33,864.66C767.49,865.77 763.72,864.93 763.21,863.39C762.72,861.85 765.28,858.96 769.03,857.59L771.82,856.32A4.15,4.15 0 0 0 770.13,848.36L767.07,848.33C763.08,848.61 759.57,847.01 759.38,845.4C759.23,843.78 762.33,841.49 766.29,840.93L769.28,840.27A4.15,4.15 0 0 0 769.28,832.13L766.29,831.47C762.33,830.91 759.23,828.62 759.38,827C759.57,825.39 763.08,823.79 767.07,824.07L770.13,824.04A4.15,4.15 0 0 0 771.82,816.08L769.03,814.81C765.28,813.44 762.72,810.55 763.21,809.01C763.72,807.47 767.49,806.63 771.33,807.74L774.33,808.34A4.15,4.15 0 0 0 777.64,800.91L775.18,799.09C771.79,796.97 769.89,793.61 770.69,792.2C771.51,790.8 775.37,790.77 778.9,792.65L781.71,793.87A4.15,4.15 0 0 0 786.49,787.28L784.47,784.99C781.59,782.21 780.43,778.53 781.5,777.32C782.6,776.12 786.38,776.89 789.44,779.46L791.94,781.24A4.15,4.15 0 0 0 797.98,775.79L796.48,773.13C794.24,769.81 793.87,765.97 795.17,765.01C796.5,764.07 800.03,765.6 802.5,768.76L804.57,771.01A4.15,4.15 0 0 0 811.61,766.94L810.69,764.02C809.19,760.31 809.63,756.48 811.11,755.81C812.59,755.16 815.74,757.4 817.49,761L819.04,763.63A4.15,4.15 0 0 0 826.78,761.12L826.49,758.07C825.79,754.13 827.02,750.47 828.6,750.12C830.19,749.8 832.8,752.64 833.77,756.53L834.74,759.43A4.15,4.15 0 0 0 842.83,758.58L843.18,755.54C843.32,751.54 845.28,748.21 846.9,748.2C848.52,748.21 850.48,751.54 850.62,755.54L850.97,758.58A4.15,4.15 0 0 0 859.06,759.43L860.03,756.53C861,752.64 863.61,749.8 865.2,750.12C866.78,750.47 868.01,754.13 867.31,758.07L867.02,761.12A4.15,4.15 0 0 0 874.76,763.63L876.31,761C878.06,757.4 881.21,755.16 882.69,755.81C884.17,756.48 884.61,760.31 883.11,764.02L882.19,766.94A4.15,4.15 0 0 0 889.23,771.01L891.3,768.76C893.77,765.6 897.3,764.07 898.63,765.01C899.93,765.97 899.56,769.81 897.32,773.13L895.82,775.79A4.15,4.15 0 0 0 901.86,781.24L904.36,779.46C907.42,776.89 911.2,776.12 912.3,777.32C913.37,778.53 912.21,782.21 909.33,784.99L907.31,787.28A4.15,4.15 0 0 0 912.09,793.87L914.9,792.65C918.43,790.77 922.29,790.8 923.11,792.2C923.91,793.61 922.01,796.97 918.62,799.09L916.16,800.91A4.15,4.15 0 0 0 919.47,808.34L922.47,807.74C926.31,806.63 930.08,807.47 930.59,809.01C931.08,810.55 928.52,813.44 924.77,814.81L921.98,816.08A4.15,4.15 0 0 0 923.67,824.04L926.73,824.07C930.72,823.79 934.23,825.39 934.42,827C934.57,828.62 931.47,830.91 927.51,831.47L924.52,832.13A4.15,4.15 0 0 0 924.52,840.27Z" fill="none" stroke="#2a2a2a" stroke-width="0.97" />
<circle cx="846.6" cy="836" r="55.8" fill="none" stroke="#2a2a2a" stroke-width="0.97" />
<circle cx="846.6" cy="836" r="47.4" fill="none" stroke="#2a2a2a" stroke-width="0.78" />
<circle cx="846.6" cy="836" r="46" fill="none" stroke="#2a2a2a" stroke-width="0.78" />
<path d="M925.35,1027.22L925.05,1029.66C924.89,1033.2 923.29,1036.1 922.49,1036.09C921.7,1036.08 920.17,1033.14 920.09,1029.6L919.85,1027.16A2.81,2.81 0 0 0 914.36,1026.78L913.79,1029.17C913.22,1032.67 911.31,1035.37 910.52,1035.27C909.74,1035.17 908.55,1032.08 908.86,1028.55L908.9,1026.1A2.81,2.81 0 0 0 903.48,1025.11L902.65,1027.41C901.69,1030.83 899.49,1033.3 898.72,1033.12C897.95,1032.93 897.11,1029.72 897.82,1026.25L898.13,1023.82A2.81,2.81 0 0 0 892.86,1022.23L891.77,1024.43C890.44,1027.72 887.97,1029.92 887.23,1029.66C886.49,1029.38 886.01,1026.1 887.11,1022.73L887.68,1020.35A2.81,2.81 0 0 0 882.63,1018.18L881.3,1020.24C879.61,1023.36 876.91,1025.28 876.2,1024.93C875.49,1024.57 875.39,1021.26 876.85,1018.03L877.69,1015.73A2.81,2.81 0 0 0 872.91,1013.01L871.36,1014.91C869.34,1017.82 866.44,1019.42 865.77,1019C865.11,1018.57 865.37,1015.26 867.19,1012.22L868.29,1010.03A2.81,2.81 0 0 0 863.83,1006.79L862.08,1008.5C859.74,1011.16 856.68,1012.43 856.07,1011.93C855.46,1011.43 856.09,1008.18 858.24,1005.36L859.57,1003.3A2.81,2.81 0 0 0 855.51,999.58L853.58,1001.09C850.96,1003.48 847.78,1004.4 847.22,1003.83C846.67,1003.26 847.67,1000.1 850.11,997.54L851.67,995.64A2.81,2.81 0 0 0 848.05,991.49L845.96,992.78C843.09,994.85 839.82,995.41 839.34,994.79C838.85,994.16 840.19,991.13 842.92,988.86L844.67,987.15A2.81,2.81 0 0 0 841.54,982.62L839.32,983.66C836.23,985.4 832.93,985.59 832.51,984.92C832.1,984.24 833.78,981.38 836.73,979.43L838.67,977.92A2.81,2.81 0 0 0 836.07,973.07L833.75,973.86C830.48,975.24 827.17,975.06 826.84,974.34C826.5,973.63 828.49,970.97 831.65,969.36L833.74,968.09A2.81,2.81 0 0 0 831.69,962.98L829.3,963.5C825.9,964.51 822.64,963.95 822.38,963.2C822.13,962.45 824.4,960.04 827.72,958.79L829.94,957.76A2.81,2.81 0 0 0 828.48,952.45L826.04,952.7C822.55,953.32 819.37,952.41 819.2,951.63C819.04,950.86 821.56,948.71 825,947.85L827.32,947.07A2.81,2.81 0 0 0 826.47,941.63L824.02,941.6C820.48,941.83 817.42,940.57 817.33,939.78C817.26,938.99 820.01,937.14 823.52,936.67L825.92,936.15A2.81,2.81 0 0 0 825.68,930.65L823.24,930.35C819.7,930.19 816.8,928.59 816.81,927.79C816.82,927 819.76,925.47 823.3,925.39L825.74,925.15A2.81,2.81 0 0 0 826.12,919.66L823.73,919.09C820.23,918.52 817.53,916.61 817.63,915.82C817.73,915.04 820.82,913.85 824.35,914.16L826.8,914.2A2.81,2.81 0 0 0 827.79,908.78L825.49,907.95C822.07,906.99 819.6,904.79 819.78,904.02C819.97,903.25 823.18,902.41 826.65,903.12L829.08,903.43A2.81,2.81 0 0 0 830.67,898.16L828.47,897.07C825.18,895.74 822.98,893.27 823.24,892.53C823.52,891.79 826.8,891.31 830.17,892.41L832.55,892.98A2.81,2.81 0 0 0 834.72,887.93L832.66,886.6C829.54,884.91 827.62,882.21 827.97,881.5C828.33,880.79 831.64,880.69 834.87,882.15L837.17,882.99A2.81,2.81 0 0 0 839.89,878.21L837.99,876.66C835.08,874.64 833.48,871.74 833.9,871.07C834.33,870.41 837.64,870.67 840.68,872.49L842.87,873.59A2.81,2.81 0 0 0 846.11,869.13L844.4,867.38C841.74,865.04 840.47,861.98 840.97,861.37C841.47,860.76 844.72,861.39 847.54,863.54L849.6,864.87A2.81,2.81 0 0 0 853.32,860.81L851.81,858.88C849.42,856.26 848.5,853.08 849.07,852.52C849.64,851.97 852.8,852.97 855.36,855.41L857.26,856.97A2.81,2.81 0 0 0 861.41,853.35L860.12,851.26C858.05,848.39 857.49,845.12 858.11,844.64C858.74,844.15 861.77,845.49 864.04,848.22L865.75,849.97A2.81,2.81 0 0 0 870.28,846.84L869.24,844.62C867.5,841.53 867.31,838.23 867.98,837.81C868.66,837.4 871.52,839.08 873.47,842.03L874.98,843.97A2.81,2.81 0 0 0 879.83,841.37L879.04,839.05C877.66,835.78 877.84,832.47 878.56,832.14C879.27,831.8 881.93,833.79 883.54,836.95L884.81,839.04A2.81,2.81 0 0 0 889.92,836.99L889.4,834.6C888.39,831.2 888.95,827.94 889.7,827.68C890.45,827.43 892.86,829.7 894.11,833.02L895.14,835.24A2.81,2.81 0 0 0 900.45,833.78L900.2,831.34C899.58,827.85 900.49,824.67 901.27,824.5C902.04,824.34 904.19,826.86 905.05,830.3L905.83,832.62A2.81,2.81 0 0 0 911.27,831.77L911.3,829.32C911.07,825.78 912.33,822.72 913.12,822.63C913.91,822.56 915.76,825.31 916.23,828.82L916.75,831.22A2.81,2.81 0 0 0 922.25,830.98L922.55,828.54C922.71,825 924.31,822.1 925.11,822.11C925.9,822.12 927.43,825.06 927.51,828.6L927.75,831.04A2.81,2.81 0 0 0 933.24,831.42L933.81,829.03C934.38,825.53 936.29,822.83 937.08,822.93C937.86,823.03 939.05,826.12 938.74,829.65L938.7,832.1A2.81,2.81 0 0 0 944.12,833.09L944.95,830.79C945.91,827.37 948.11,824.9 948.88,825.08C949.65,825.27 950.49,828.48 949.78,831.95L949.47,834.38A2.81,2.81 0 0 0 954.74,835.97L955.83,833.77C957.16,830.48 959.63,828.28 960.37,828.54C961.11,828.82 961.59,832.1 960.49,835.47L959.92,837.85A2.81,2.81 0 0 0 964.97,840.02L966.3,837.96C967.99,834.84 970.69,832.92 971.4,833.27C972.11,833.63 972.21,836.94 970.75,840.17L969.91,842.47A2.81,2.81 0 0 0 974.69,845.19L976.24,843.29C978.26,840.38 981.16,838.78 981.83,839.2C982.49,839.63 982.23,842.94 980.41,845.98L979.31,848.17A2.81,2.81 0 0 0 983.77,851.41L985.52,849.7C987.86,847.04 990.92,845.77 991.53,846.27C992.14,846.77 991.51,850.02 989.36,852.84L988.03,854.9A2.81,2.81 0 0 0 992.09,858.62L994.02,857.11C996.64,854.72 999.82,853.8 1000.38,854.37C1000.93,854.94 999.93,858.1 997.49,860.66L995.93,862.56A2.81,2.81 0 0 0 999.55,866.71L1001.64,865.42C1004.51,863.35 1007.78,862.79 1008.26,863.41C1008.75,864.04 1007.41,867.07 1004.68,869.34L1002.93,871.05A2.81,2.81 0 0 0 1006.06,875.58L1008.28,874.54C1011.37,872.8 1014.67,872.61 1015.09,873.28C1015.5,873.96 1013.82,876.82 1010.87,878.77L1008.93,880.28A2.81,2.81 0 0 0 1011.53,885.13L1013.85,884.34C1017.12,882.96 1020.43,883.14 1020.76,883.86C1021.1,884.57 1019.11,887.23 1015.95,888.84L1013.86,890.11A2.81,2.81 0 0 0 1015.91,895.22L1018.3,894.7C1021.7,893.69 1024.96,894.25 1025.22,895C1025.47,895.75 1023.2,898.16 1019.88,899.41L1017.66,900.44A2.81,2.81 0 0 0 1019.12,905.75L1021.56,905.5C1025.05,904.88 1028.23,905.79 1028.4,906.57C1028.56,907.34 1026.04,909.49 1022.6,910.35L1020.28,911.13A2.81,2.81 0 0 0 1021.13,916.57L1023.58,916.6C1027.12,916.37 1030.18,917.63 1030.27,918.42C1030.34,919.21 1027.59,921.06 1024.08,921.53L1021.68,922.05A2.81,2.81 0 0 0 1021.92,927.55L1024.36,927.85C1027.9,928.01 1030.8,929.61 1030.79,930.41C1030.78,931.2 1027.84,932.73 1024.3,932.81L1021.86,933.05A2.81,2.81 0 0 0 1021.48,938.54L1023.87,939.11C1027.37,939.68 1030.07,941.59 1029.97,942.38C1029.87,943.16 1026.78,944.35 1023.25,944.04L1020.8,944A2.81,2.81 0 0 0 1019.81,949.42L1022.11,950.25C1025.53,951.21 1028,953.41 1027.82,954.18C1027.63,954.95 1024.42,955.79 1020.95,955.08L1018.52,954.77A2.81,2.81 0 0 0 1016.93,960.04L1019.13,961.13C1022.42,962.46 1024.62,964.93 1024.36,965.67C1024.08,966.41 1020.8,966.89 1017.43,965.79L1015.05,965.22A2.81,2.81 0 0 0 1012.88,970.27L1014.94,971.6C1018.06,973.29 1019.98,975.99 1019.63,976.7C1019.27,977.41 1015.96,977.51 1012.73,976.05L1010.43,975.21A2.81,2.81 0 0 0 1007.71,979.99L1009.61,981.54C1012.52,983.56 1014.12,986.46 1013.7,987.13C1013.27,987.79 1009.96,987.53 1006.92,985.71L1004.73,984.61A2.81,2.81 0 0 0 1001.49,989.07L1003.2,990.82C1005.86,993.16 1007.13,996.22 1006.63,996.83C1006.13,997.44 1002.88,996.81 1000.06,994.66L998,993.33A2.81,2.81 0 0 0 994.28,997.39L995.79,999.32C998.18,1001.94 999.1,1005.12 998.53,1005.68C997.96,1006.23 994.8,1005.23 992.24,1002.79L990.34,1001.23A2.81,2.81 0 0 0 986.19,1004.85L987.48,1006.94C989.55,1009.81 990.11,1013.08 989.49,1013.56C988.86,1014.05 985.83,1012.71 983.56,1009.98L981.85,1008.23A2.81,2.81 0 0 0 977.32,1011.36L978.36,1013.58C980.1,1016.67 980.29,1019.97 979.62,1020.39C978.94,1020.8 976.08,1019.12 974.13,1016.17L972.62,1014.23A2.81,2.81 0 0 0 967.77,1016.83L968.56,1019.15C969.94,1022.42 969.76,1025.73 969.04,1026.06C968.33,1026.4 965.67,1024.41 964.06,1021.25L962.79,1019.16A2.81,2.81 0 0 0 957.68,1021.21L958.2,1023.6C959.21,1027 958.65,1030.26 957.9,1030.52C957.15,1030.77 954.74,1028.5 953.49,1025.18L952.46,1022.96A2.81,2.81 0 0 0 947.15,1024.42L947.4,1026.86C948.02,1030.35 947.11,1033.53 946.33,1033.7C945.56,1033.86 943.41,1031.34 942.55,1027.9L941.77,1025.58A2.81,2.81 0 0 0 936.33,1026.43L936.3,1028.88C936.53,1032.42 935.27,1035.48 934.48,1035.57C933.69,1035.64 931.84,1032.89 931.37,1029.38L930.85,1026.98A2.81,2.81 0 0 0 925.35,1027.22Z" fill="#fff" stroke="#2a2a2a" stroke-width="0.97" />
<circle cx="923.8" cy="929.1" r="56.45" fill="none" stroke="#2a2a2a" stroke-width="0.97" />
<path d="M844.37,820.9L844.75,819.75C844.59,816.48 846.25,813.7 846.98,813.7C847.71,813.72 849.31,816.54 849.07,819.8L849.42,820.96A2.58,2.58 0 0 0 854.21,822.59L855.2,821.88C856.99,819.14 859.97,817.87 860.56,818.3C861.14,818.74 860.78,821.96 858.67,824.46L858.27,825.61A2.58,2.58 0 0 0 861.19,829.74L862.41,829.74C865.47,828.58 868.62,829.31 868.85,830C869.06,830.7 866.87,833.09 863.69,833.87L862.7,834.57A2.58,2.58 0 0 0 862.64,839.62L863.61,840.34C866.77,841.2 868.9,843.64 868.68,844.34C868.43,845.02 865.26,845.67 862.23,844.44L861.01,844.41A2.58,2.58 0 0 0 857.99,848.47L858.36,849.63C860.41,852.18 860.69,855.4 860.11,855.83C859.5,856.25 856.56,854.91 854.83,852.13L853.86,851.39A2.58,2.58 0 0 0 849.03,852.9L848.65,854.05C848.81,857.32 847.15,860.1 846.42,860.1C845.69,860.08 844.09,857.26 844.33,854L843.98,852.84A2.58,2.58 0 0 0 839.19,851.21L838.2,851.92C836.41,854.66 833.43,855.93 832.84,855.5C832.26,855.06 832.62,851.84 834.73,849.34L835.13,848.19A2.58,2.58 0 0 0 832.21,844.06L830.99,844.06C827.93,845.22 824.78,844.49 824.55,843.8C824.34,843.1 826.53,840.71 829.71,839.93L830.7,839.23A2.58,2.58 0 0 0 830.76,834.18L829.79,833.46C826.63,832.6 824.5,830.16 824.72,829.46C824.97,828.78 828.14,828.13 831.17,829.36L832.39,829.39A2.58,2.58 0 0 0 835.41,825.33L835.04,824.17C832.99,821.62 832.71,818.4 833.29,817.97C833.9,817.55 836.84,818.89 838.57,821.67L839.54,822.41A2.58,2.58 0 0 0 844.37,820.9Z" fill="none" stroke="#2a2a2a" stroke-width="1.21" />
<circle cx="846.7" cy="836.9" r="8.6" fill="#fff" stroke="#2a2a2a" stroke-width="1.26" />
<circle cx="846.7" cy="836.9" r="7.3" fill="none" stroke="#2a2a2a" stroke-width="0.78" />
<path d="M811.5,75 L826.5,49.5 Q829,45.6 833.5,44.2 C860,37.5 895,34 922.5,33.9 C952,34 990,38 1016,44.8 Q1020.5,46 1022.8,50 L1036.25,74.4 L1036.25,145.6 L1008.75,177.25 A84.4,10.3 0 0 1 840,177.25 L811.5,145.6 Z" fill="#fff" stroke="#2a2a2a" stroke-width="0.97" />
<ellipse cx="924.4" cy="177.2" rx="84.4" ry="10.3" fill="none" stroke="#2a2a2a" stroke-width="0.97" />
<path d="M816.9,73 L816.9,144 M811.5,75 L816.9,73 M811.5,145.6 L816.9,144 M1031.25,73 L1031.25,144 M1036.25,74.4 L1031.25,73 M1036.25,145.6 L1031.25,144" fill="none" stroke="#2a2a2a" stroke-width="0.78" />
<path d="M816.9,73 C822,66 827,59 831.25,57.1 C834,56.3 834.75,59 834.75,62.5 L834.75,145 C834.75,148.5 832.5,150 829.4,149.4 C825,148.5 821,146 816.9,144 M834.75,67.25 L850.4,65.25 M834.75,139.75 L850.4,137.5 M850.4,137.5 L850.4,65.25 C856,57.5 863,51.3 870,51.25 C876.5,51.3 881,56 882.5,61.9 L882.5,135.6 C880,141 874.5,144.5 868.75,144.4 C862,144.2 856,141 850.4,137.5 M882.5,61.9 L904.4,61.25 M882.5,135.6 L904.4,134.4 M904.4,134.4 L904.4,61.25 C909,54 916,49.4 923.75,49.4 C931.5,49.4 938,54 942.5,61.25 L942.5,134.4 C937.5,139 931,141.9 923.75,141.9 C916.5,141.9 909.5,139 904.4,134.4 M942.5,61.25 L965.4,61.9 M942.5,134.4 L965.4,135.6 M965.4,135.6 L965.4,61.9 C967,56 971,51.3 977.5,51.25 C984.5,51.3 991.5,57.5 997.5,65 L997.5,137.5 C992,141 986,144.2 978.75,144.4 C973,144.5 968,141 965.4,135.6 M997.5,65 L1013.4,67.25 M997.5,137.5 L1013.4,139.75 M1031.25,73 C1026,66 1021,59 1016.9,57.1 C1014.2,56.3 1013.4,59 1013.4,62.5 L1013.4,145 C1013.4,148.5 1015.6,150 1018.75,149.4 C1023,148.5 1027.2,146 1031.25,144 " fill="none" stroke="#2a2a2a" stroke-width="0.87" />
<path d="M893.1,176.9 A31.4,3.6 0 0 1 955.9,176.9 L955.9,218.5 L893.1,218.5 Z" fill="#fff" stroke="#2a2a2a" stroke-width="0.87" />
<ellipse cx="924.5" cy="218.8" rx="31.4" ry="3.6" fill="#fff" stroke="#2a2a2a" stroke-width="0.87" />
<path d="M896,219.5 A28.5,2.6 0 0 1 953,219.3 M903,221 L946,217.6 M905,222 L940,218.6" fill="none" stroke="#2a2a2a" stroke-width="0.68" />
<path d="M906.3,222 L901.3,230.3 M945,220.6 L948.1,230.3 M905.5,223.8 Q925,220.5 945.5,221.3 M901.3,230.6 Q925,226.2 948.1,230.6 M900,232.8 Q925,228.4 949.4,232.8 M901.3,230.6 L900,232.8 L893.4,238.6 M948.1,230.6 L949.4,232.8 L955.6,238.6 M893.4,238.6 Q924.5,232.6 955.6,238.6" fill="none" stroke="#2a2a2a" stroke-width="0.87" />
<path d="M893.4,238.6 L893.4,288.1 M955.6,238.6 L955.6,288.1 M893.4,288.1 Q924.5,282.7 955.6,288.1 M895.6,290.2 Q924.5,285.6 953.4,290.2 M893.4,288.1 L895.6,290.2 L900.5,295 M955.6,288.1 L953.4,290.2 L948.75,295 M900.5,295 Q924.6,291 948.75,295" fill="none" stroke="#2a2a2a" stroke-width="0.87" />
<path d="M900.5,295 L900.5,360 M948.75,295 L948.75,376" fill="none" stroke="#2a2a2a" stroke-width="0.87" />
<path d="M887.75,489.4 L961.25,489.4 L961.25,529.4 L937.5,529.4 L937.5,533.2 L911.25,533.2 L911.25,529.4 L887.75,529.4 Z" fill="#fff" stroke="#2a2a2a" stroke-width="0.87" />
<path d="M916.25,533.2 L916.25,553.5" fill="none" stroke="#2a2a2a" stroke-width="0.78" />
<path d="M888.3,529.4 C889.5,520 891,511.5 892.5,511.5 C894,511.5 895.5,520 896.7,529.4 M890.7,523 C891,517 891.9,515 893,515 M899.2,529.4 C900.4,520 902.7,511.5 905,511.5 C907.3,511.5 909.6,520 910.8,529.4 M902.24,523 C902.7,517 904.08,515 905.5,515 M918,529.4 C919.2,520 921.8,511.5 924.4,511.5 C927,511.5 929.6,520 930.8,529.4 M921.28,523 C921.8,517 923.36,515 924.9,515 M937.3,529.4 C938.5,520 940.8,511.5 943.1,511.5 C945.4,511.5 947.7,520 948.9,529.4 M940.34,523 C940.8,517 942.18,515 943.6,515 M952.1,529.4 C953.3,520 954.8,511.5 956.3,511.5 C957.8,511.5 959.3,520 960.5,529.4 M954.5,523 C954.8,517 955.7,515 956.8,515 " fill="none" stroke="#2a2a2a" stroke-width="0.78" />
<path d="M911.25,529.4 L911.25,527 M937.5,529.4 L937.5,527 M889,529.4 L889,526 M960,529.4 L960,526" fill="none" stroke="#2a2a2a" stroke-width="0.78" />
<path d="M613.5,462 Q618,466 620,470.3 L620,470.3C623.75,469.42 634.58,466.4 642.5,465C650.42,463.6 658.12,462.73 667.5,461.9C676.88,461.07 688.33,460.22 698.75,460C709.17,459.78 719.58,460.18 730,460.6C740.42,461.02 752.92,461.73 761.25,462.5C769.58,463.27 773.33,464.25 780,465.25C786.67,466.25 794.08,467.64 801.25,468.5C808.42,469.36 819.38,470.08 823,470.4 L830,462 L835.6,452.5 L850,451.9 L850,451.9C850.62,452.32 852.08,453.26 853.75,454.4C855.42,455.54 857.29,457.23 860,458.75C862.71,460.27 866.67,462.25 870,463.5C873.33,464.75 876.25,465.58 880,466.25C883.75,466.92 888.33,467.5 892.5,467.5C896.67,467.5 900.83,466.92 905,466.25C909.17,465.58 913.33,464.33 917.5,463.5C921.67,462.67 925.83,461.52 930,461.25C934.17,460.98 938.33,461.38 942.5,461.9C946.67,462.42 951.88,463.26 955,464.4C958.12,465.54 959.83,467.19 961.25,468.75C962.67,470.31 963.5,471.98 963.5,473.75C963.5,475.52 962.46,477.94 961.25,479.4C960.04,480.86 958.54,481.57 956.25,482.5C953.96,483.43 951.88,484.27 947.5,485C943.12,485.73 935.21,486.48 930,486.9C924.79,487.32 921.46,487.36 916.25,487.5C911.04,487.64 904.79,487.38 898.75,487.75C892.71,488.12 886.25,488.64 880,489.75C873.75,490.86 867.5,492.48 861.25,494.4C855,496.32 847.71,499.07 842.5,501.25C837.29,503.43 833.54,505.73 830,507.5C826.46,509.27 823.96,510.86 821.25,511.9C818.54,512.94 816.04,513.55 813.75,513.75C811.46,513.95 810,513.83 807.5,513.1C805,512.38 801.88,510.75 798.75,509.4C795.62,508.05 791.88,506.25 788.75,505C785.62,503.75 781.46,502.42 780,501.9 L761.25,499.4C758.12,499.08 749.79,498.08 742.5,497.5C735.21,496.92 725.83,496.17 717.5,495.9C709.17,495.63 700.83,495.63 692.5,495.9C684.17,496.17 675.83,496.5 667.5,497.5C659.17,498.5 649.79,500.44 642.5,501.9C635.21,503.36 630,504.69 623.75,506.25C617.5,507.81 609.54,510.36 605,511.25C600.46,512.14 597.92,511.54 596.5,511.6 A28.4,28.4 0 1 1 613.5,462 Z" fill="#fff" stroke="#2a2a2a" stroke-width="0.97" />
<path d="M617.5,474.4C621.67,473.57 634.17,470.87 642.5,469.4C650.83,467.93 658.12,466.5 667.5,465.6C676.88,464.7 688.33,464.2 698.75,464C709.17,463.8 719.58,464.02 730,464.4C740.42,464.77 752.92,465.5 761.25,466.25C769.58,467 773.33,467.96 780,468.9C786.67,469.84 794.42,471.35 801.25,471.9C808.08,472.45 817.71,472.15 821,472.2" fill="none" stroke="#2a2a2a" stroke-width="0.78" />
<path d="M601.25,507.5C605,506.57 616.88,503.55 623.75,501.9C630.62,500.25 635.21,499.03 642.5,497.6C649.79,496.17 659.17,494.32 667.5,493.3C675.83,492.28 684.17,491.82 692.5,491.5C700.83,491.18 709.17,491.15 717.5,491.4C725.83,491.65 735.21,492.4 742.5,493C749.79,493.6 755,494.15 761.25,495C767.5,495.85 774.79,496.75 780,498.1C785.21,499.45 788.33,501.33 792.5,503.1C796.67,504.88 801.67,507.6 805,508.75C808.33,509.9 809.79,510.12 812.5,510C815.21,509.88 819.79,508.33 821.25,508" fill="none" stroke="#2a2a2a" stroke-width="0.78" />
<path d="M850,451.9C850.83,452.73 852.08,455.34 855,456.9C857.92,458.46 863.33,460.15 867.5,461.25C871.67,462.35 875.83,462.98 880,463.5C884.17,464.02 888.33,464.47 892.5,464.4C896.67,464.33 900.83,463.73 905,463.1C909.17,462.47 913.33,461.28 917.5,460.6C921.67,459.92 925.83,459.17 930,459C934.17,458.83 938.33,459.12 942.5,459.6C946.67,460.08 952.29,460.5 955,461.9C957.71,463.3 958.12,466.02 958.75,468C959.38,469.98 959.38,472 958.75,473.75C958.12,475.5 956.88,477.29 955,478.5C953.12,479.71 951.67,480.32 947.5,481C943.33,481.68 935.21,482.35 930,482.6C924.79,482.85 921.46,482.35 916.25,482.5C911.04,482.65 904.79,483 898.75,483.5C892.71,484 886.25,484.42 880,485.5C873.75,486.58 867.5,488.08 861.25,490C855,491.92 847.71,494.83 842.5,497C837.29,499.17 833.54,501.17 830,503C826.46,504.83 822.71,507.17 821.25,508" fill="none" stroke="#2a2a2a" stroke-width="0.78" />
<path d="M916.25,482.5 L916.25,487.5 M601.25,507.5 L601.25,512 M761.25,495 L761.25,499.4 M801.25,468.5 L801.25,471.9" fill="none" stroke="#2a2a2a" stroke-width="0.68" />
<path d="M617.5,474.4 A25,25 0 1 0 601.25,507.5" fill="none" stroke="#2a2a2a" stroke-width="0.78" />
<circle cx="594.4" cy="483.1" r="14.4" fill="none" stroke="#2a2a2a" stroke-width="0.87" />
<circle cx="594.4" cy="483.1" r="11.9" fill="none" stroke="#2a2a2a" stroke-width="0.87" />
<path d="M586.9,490.6 A10.6,10.6 0 0 1 593.4,472.6" fill="none" stroke="#2a2a2a" stroke-width="0.68" />
<path d="M785,352.9 L852.5,341.25 L852.5,341.25C853.96,341.21 858.33,340.48 861.25,341C864.17,341.52 866.88,342.69 870,344.4C873.12,346.11 876.67,349.27 880,351.25C883.33,353.23 886.67,354.79 890,356.25C893.33,357.71 895.83,358.64 900,360C904.17,361.36 909.58,363.11 915,364.4C920.42,365.69 927.92,366.61 932.5,367.75C937.08,368.89 939.58,369.62 942.5,371.25C945.42,372.88 948.08,374.79 950,377.5C951.92,380.21 953.58,384.17 954,387.5C954.42,390.83 953.58,394.38 952.5,397.5C951.42,400.62 949.58,403.75 947.5,406.25C945.42,408.75 942.92,410.88 940,412.5C937.08,414.12 931.67,415.42 930,416 L900,425 L876.9,411.9 L876.9,411.9C876.38,411.48 875.32,410.23 873.75,409.4C872.18,408.57 869.79,407.37 867.5,406.9C865.21,406.43 862.5,406.18 860,406.6C857.5,407.02 854.79,408 852.5,409.4C850.21,410.8 848.02,412.82 846.25,415C844.48,417.18 843.36,419.17 841.9,422.5C840.44,425.83 838.97,430.21 837.5,435C836.03,439.79 834.35,447.08 833.1,451.25C831.85,455.42 831.25,457.29 830,460C828.75,462.71 826.64,465.93 825.6,467.5C824.56,469.07 824.06,469.08 823.75,469.4 L823.75,469.4C822.92,469.08 821.46,468.65 818.75,467.5C816.04,466.35 811.46,464.79 807.5,462.5C803.54,460.21 798.96,456.67 795,453.75C791.04,450.83 787.29,447.29 783.75,445C780.21,442.71 777.29,441.46 773.75,440C770.21,438.54 766.46,437.6 762.5,436.25C758.54,434.9 753.96,433.98 750,431.9C746.04,429.82 741.98,426.98 738.75,423.75C735.52,420.52 732.58,416.46 730.6,412.5C728.62,408.54 727.32,404.17 726.9,400C726.48,395.83 726.75,391.67 728.1,387.5C729.45,383.33 732.18,378.54 735,375C737.82,371.46 741.25,368.65 745,366.25C748.75,363.85 753.33,362.16 757.5,360.6C761.67,359.04 765.42,358.18 770,356.9C774.58,355.62 782.5,353.57 785,352.9 Z" fill="#fff" stroke="#2a2a2a" stroke-width="0.97" />
<path d="M793.75,353.9 L853,343.8" fill="none" stroke="#2a2a2a" stroke-width="0.78" />
<path d="M785,352.9C786.67,354.08 791.25,356.52 795,360C798.75,363.48 804.17,368.96 807.5,373.75C810.83,378.54 813.43,384.58 815,388.75C816.57,392.92 816.9,394.79 816.9,398.75C816.9,402.71 816.57,407.71 815,412.5C813.43,417.29 810.83,423.12 807.5,427.5C804.17,431.88 798.96,435.83 795,438.75C791.04,441.67 785.62,443.96 783.75,445" fill="none" stroke="#2a2a2a" stroke-width="0.82" />
<path d="M788.2,354.6C789.09,355.82 790.66,358.51 793.53,361.9C796.4,365.29 802.24,370.41 805.42,374.96C808.61,379.51 811.13,385.24 812.64,389.2C814.15,393.16 814.49,394.95 814.5,398.72C814.51,402.49 814.19,407.26 812.7,411.83C811.2,416.4 808.72,421.96 805.54,426.12C802.35,430.28 796.8,434.06 793.59,436.81C790.39,439.55 787.52,441.63 786.3,442.6" fill="none" stroke="#2a2a2a" stroke-width="0.78" />
<path d="M826.9,468C827.83,466 830.73,460.67 832.5,456C834.27,451.33 835.75,445.42 837.5,440C839.25,434.58 841.25,427.58 843,423.5C844.75,419.42 847.17,416.83 848,415.5" fill="none" stroke="#2a2a2a" stroke-width="0.68" />
<path d="M836.25,452.5 L850,451.9" fill="none" stroke="#2a2a2a" stroke-width="0.68" />
<circle cx="765.6" cy="398.1" r="10" fill="none" stroke="#2a2a2a" stroke-width="0.87" />
<path d="M757.2,403.8 A10,10 0 0 0 775.2,401.2" fill="none" stroke="#2a2a2a" stroke-width="1.26" />
<path d="M759.2,406.6 A10.6,10.6 0 0 0 773.2,405.6" fill="none" stroke="#2a2a2a" stroke-width="0.68" />
<circle cx="856.9" cy="374" r="11.9" fill="none" stroke="#2a2a2a" stroke-width="0.87" />
<circle cx="856.9" cy="374" r="8.5" fill="none" stroke="#2a2a2a" stroke-width="1.26" />
<circle cx="930" cy="391.6" r="9" fill="none" stroke="#2a2a2a" stroke-width="0.87" />
<circle cx="930" cy="391.6" r="7.25" fill="none" stroke="#2a2a2a" stroke-width="1.07" />
<path d="M887.8,429 L961.9,429 L961.9,459.8 L887.8,459.8 Z" fill="#fff" stroke="#2a2a2a" stroke-width="0.87" />
<path d="M888.8,461.2 L961,461.2" fill="none" stroke="#2a2a2a" stroke-width="0.68" />
<path d="M887.8,441.1 L893,444.4 L893,434.5 L912.2,443.4 L912.2,433.6 L937.5,443.4 L937.5,433.3 L956.7,444.4 L956.7,434.1 L961.5,440" fill="none" stroke="#2a2a2a" stroke-width="1.07" />
<path d="M861.4,413 L866,412.6 L866,411.8 L881,411.6 L881,410.2 L893,410.2 L893,414 L902.5,414 L902.5,410.2 L914,410.2 L914,413.4 L925.8,413.4 L925.8,409.8 L935.6,409.8 L935.6,413 L946.5,413 L946.5,410.2 L958.2,410.2 L958.2,411.6 L976,411.8 L976,412.4 L986.5,412.4 L986.5,429.8 Q960,433.5 924,431.6 Q888,433.5 861.4,430.8 Z" fill="#fff" stroke="#2a2a2a" stroke-width="0.87" />
<path d="M861.4,430.8 Q888,432.6 924,430.2 Q960,432.6 986.5,429.8" fill="none" stroke="#2a2a2a" stroke-width="1.75" />
<path d="M866.5,412.5 L868.2,429.8 M868.3,412.5 L870,429.8 M880.5,412.5 L882.6,429.8 M882.8,412.5 L885,429.8 M886,412.5 L888.2,429.8 M895.3,412.5 L897.2,429.8 M897.2,412.5 L899.2,429.8 M903.7,412.5 L906.2,429.8 M905.6,412.5 L908.3,429.8 M907.5,412.5 L910.4,429.8 M915,412.5 L917.8,429.8 M917.8,412.5 L920.5,429.8 M922.5,412.5 L925,429.8 M926.2,412.5 L929.3,429.8 M930,412.5 L933,429.8 M933.7,412.5 L937,429.8 M938.4,412.5 L940.5,429.8 M945.9,412.5 L948.4,429.8 M948.7,412.5 L951,429.8 M957.2,412.5 L959.8,429.8 M960.9,412.5 L962.6,429.8 M964.7,412.5 L965.5,429.8 M975.9,412.5 L977.2,429.8 M978.7,412.5 L979.4,429.8 " fill="none" stroke="#2a2a2a" stroke-width="0.73" />
<g>
<circle cx="923.85" cy="930.7" r="47.9" fill="#fff" stroke="#2a2a2a" stroke-width="1.2"/>
<path d="M897.56,892.64 L749.02,763.37 L737.7,776.06 L883.05,908.91Z" fill="#fff" stroke="#2a2a2a" stroke-width="1.2"/>
<circle cx="718.9" cy="747.9" r="35.5" fill="#fff" stroke="#2a2a2a" stroke-width="1.2"/>
<path d="M702.47,717.7 L631.8,668.9 L687.02,735.01Z" fill="#fff" stroke="#2a2a2a" stroke-width="1.2"/>
<circle cx="923.85" cy="930.7" r="47.9" fill="#fff" stroke="none"/>
<path d="M897.56,892.64 L749.02,763.37 L737.7,776.06 L883.05,908.91Z" fill="#fff" stroke="none"/>
<circle cx="718.9" cy="747.9" r="35.5" fill="#fff" stroke="none"/>
<path d="M702.47,717.7 L631.8,668.9 L687.02,735.01Z" fill="#fff" stroke="none"/>
</g>
<circle cx="716.5" cy="745.3" r="26" fill="none" stroke="#2a2a2a" stroke-width="0.6" />
<path d="M896.07,891.31 L750.51,764.7 A35.8,35.8 0 0 0 701.35,716.7 L631.8,668.9" fill="none" stroke="#2a2a2a" stroke-width="1.26" />
<path d="M728.31,768.46 A26,26 0 0 1 692.14,736.2" fill="none" stroke="#2a2a2a" stroke-width="1.13" />
<path d="M896.2,888.92 A50.1,50.1 0 0 1 954.35,890.95" fill="none" stroke="#2a2a2a" stroke-width="0.78" />
<path d="M895.52,891.71 A48.2,48.2 0 0 1 954.83,893.78" fill="none" stroke="#2a2a2a" stroke-width="1.07" />
<path d="M895.93,893.64 A46.4,46.4 0 0 1 954.6,895.95" fill="none" stroke="#2a2a2a" stroke-width="0.78" />
<path d="M896.15,895.24 A45,45 0 0 1 954.25,897.52" fill="none" stroke="#2a2a2a" stroke-width="0.78" />
<g>
<circle cx="923.6" cy="933.3" r="29" fill="#fff" stroke="#2a2a2a" stroke-width="1.2"/>
<path d="M949.24,923.56 L1189.16,701.06 L1182.61,693.77 L936,908.84Z" fill="#fff" stroke="#2a2a2a" stroke-width="1.2"/>
<circle cx="1200.8" cy="684" r="22.3" fill="#fff" stroke="#2a2a2a" stroke-width="1.2"/>
<path d="M1220.34,675.84 L1325.6,571.1 L1210.98,665.43Z" fill="#fff" stroke="#2a2a2a" stroke-width="1.2"/>
<circle cx="923.6" cy="933.3" r="29" fill="#fff" stroke="none"/>
<path d="M949.24,923.56 L1189.16,701.06 L1182.61,693.77 L936,908.84Z" fill="#fff" stroke="none"/>
<circle cx="1200.8" cy="684" r="22.3" fill="#fff" stroke="none"/>
<path d="M1220.34,675.84 L1325.6,571.1 L1210.98,665.43Z" fill="#fff" stroke="none"/>
</g>
<circle cx="1202" cy="683" r="16.75" fill="none" stroke="#2a2a2a" stroke-width="0.6" />
<path d="M937.48,907.5 L1181.12,695.11 A22.6,22.6 0 0 1 1212.1,664.43 L1325.6,571.1" fill="none" stroke="#2a2a2a" stroke-width="1.26" />
<path d="M1217.67,677.07 A16.75,16.75 0 0 1 1194.45,697.95" fill="none" stroke="#2a2a2a" stroke-width="1.13" />
<path d="M894.41,935.85 A29.3,29.3 0 0 1 937.36,907.43" fill="none" stroke="#2a2a2a" stroke-width="1.21" />
<circle cx="924" cy="933.7" r="18.8" fill="none" stroke="#2a2a2a" stroke-width="0.87" />
<circle cx="924" cy="933.7" r="17.6" fill="none" stroke="#2a2a2a" stroke-width="0.68" />
<circle cx="924" cy="933.7" r="15" fill="none" stroke="#2a2a2a" stroke-width="0.68" />
<circle cx="923.8" cy="933.7" r="10.7" fill="none" stroke="#2a2a2a" stroke-width="0.87" />
<path d="M914.8,929.4 C917,938.2 930,939.7 933.6,930.7" fill="none" stroke="#2a2a2a" stroke-width="0.87" />
<path d="M926,940.7 l3.5,-1" fill="none" stroke="#2a2a2a" stroke-width="0.87" />
<g font-family="'Liberation Sans', sans-serif" font-weight="bold" font-size="23.5" fill="#000" style="filter:grayscale(1)"><text x="1308.8" y="288.8" textLength="94.5" lengthAdjust="spacingAndGlyphs">Pushed</text><text x="1409.8" y="288.8" textLength="102" lengthAdjust="spacingAndGlyphs">winding</text><text x="1516.8" y="288.8" textLength="64" lengthAdjust="spacingAndGlyphs">stem</text><text x="1310" y="317" textLength="107.5" lengthAdjust="spacingAndGlyphs">Winding</text><text x="1423" y="317" textLength="101" lengthAdjust="spacingAndGlyphs">position</text></g>
</svg>
</body></html>
